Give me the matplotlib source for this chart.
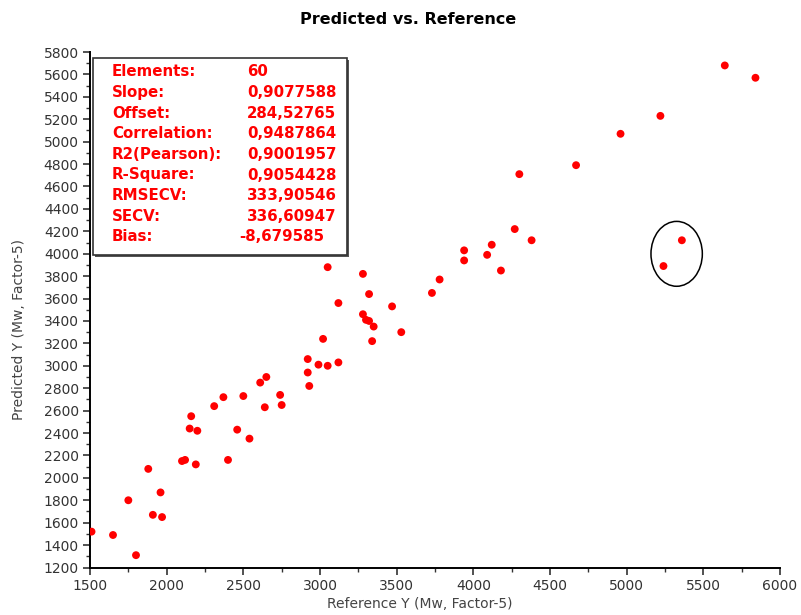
import matplotlib.pyplot as plt
from matplotlib.patches import Ellipse, Rectangle
from matplotlib.ticker import MultipleLocator

# reference vs predicted values
ref_y = [5640, 5840, 5220, 4960, 4670, 4300, 4270, 4380, 4120, 3940,
         3940, 4090, 4180, 3780, 3730, 5360, 5240,
         3050, 3280, 3320, 3120, 3470, 3280, 3300, 3320, 3350, 3530,
         3340, 3020, 2920, 2990, 3050, 3120, 2920, 2930,
         2650, 2610, 2740, 2750, 2640, 2500, 2370, 2310, 2160, 2150,
         2200, 2460, 2540,
         2100, 2120, 2190, 2400, 1880, 1960, 1750, 1910, 1970, 1510,
         1650, 1800]
pred_y = [5680, 5570, 5230, 5070, 4790, 4710, 4220, 4120, 4080, 4030,
          3940, 3990, 3850, 3770, 3650, 4120, 3890,
          3880, 3820, 3640, 3560, 3530, 3460, 3410, 3400, 3350, 3300,
          3220, 3240, 3060, 3010, 3000, 3030, 2940, 2820,
          2900, 2850, 2740, 2650, 2630, 2730, 2720, 2640, 2550, 2440,
          2420, 2430, 2350,
          2150, 2160, 2120, 2160, 2080, 1870, 1800, 1670, 1650, 1520,
          1490, 1310]

stat_names = ["Elements:", "Slope:", "Offset:", "Correlation:", "R2(Pearson):",
              "R-Square:", "RMSECV:", "SECV:", "Bias:"]
stat_values = ["60", "0,9077588", "284,52765", "0,9487864", "0,9001957",
               "0,9054428", "333,90546", "336,60947", "-8,679585"]

fig = plt.figure(figsize=(8.01, 6.15), dpi=100)
ax = fig.add_axes([90 / 801, 1 - 567.5 / 615, 690 / 801, 515.5 / 615])

ax.scatter(ref_y, pred_y, s=32, color="#ff0000", edgecolors="none", zorder=3)

# circled outliers
ax.add_patch(Ellipse((5326, 3999), 335, 579, fill=False, edgecolor="black", lw=1.1))

ax.set_xlim(1500, 6000)
ax.set_ylim(1200, 5800)
ax.xaxis.set_major_locator(MultipleLocator(500))
ax.xaxis.set_minor_locator(MultipleLocator(250))
ax.yaxis.set_major_locator(MultipleLocator(200))
ax.yaxis.set_minor_locator(MultipleLocator(100))
ax.spines["top"].set_visible(False)
ax.spines["right"].set_visible(False)
for s in ["left", "bottom"]:
    ax.spines[s].set_linewidth(1.4)
ax.tick_params(which="major", length=5, width=1.2, labelsize=10, colors="#333333", pad=3)
ax.tick_params(which="minor", length=3, width=1.0, colors="#333333")

ax.set_xlabel("Reference Y (Mw, Factor-5)", fontsize=10, color="#444444")
ax.xaxis.set_label_coords((420 - 90) / 690, -30 / 515.5)
ax.set_ylabel("Predicted Y (Mw, Factor-5)", fontsize=10, color="#444444")
ax.yaxis.set_label_coords(-64 / 690, (567.5 - 329) / 515.5)
fig.text(408 / 801, 1 - 20 / 615, "Predicted vs. Reference", ha="center", va="center",
         fontsize=11.5, fontweight="bold")

# stats box with shadow
bx0, by0, bw, bh = 93 / 801, 1 - 255 / 615, 254 / 801, 197 / 615
fig.patches.append(Rectangle((bx0 + 2 / 801, by0 - 2 / 615), bw, bh, transform=fig.transFigure,
                             facecolor="#555555", edgecolor="none", zorder=4))
fig.patches.append(Rectangle((bx0, by0), bw, bh, transform=fig.transFigure,
                             facecolor="white", edgecolor="#333333", lw=1.2, zorder=5))
for i, (n, v) in enumerate(zip(stat_names, stat_values)):
    yy = 1 - (72 + i * 20.6) / 615
    vx = 239 if v.startswith("-") else 247
    fig.text(112 / 801, yy, n, color="#ff0000", fontsize=10.8, fontweight="bold",
             va="center", zorder=6)
    fig.text(vx / 801, yy, v, color="#ff0000", fontsize=10.8, fontweight="bold",
             va="center", zorder=6)

fig.savefig("out.png", dpi=100)
